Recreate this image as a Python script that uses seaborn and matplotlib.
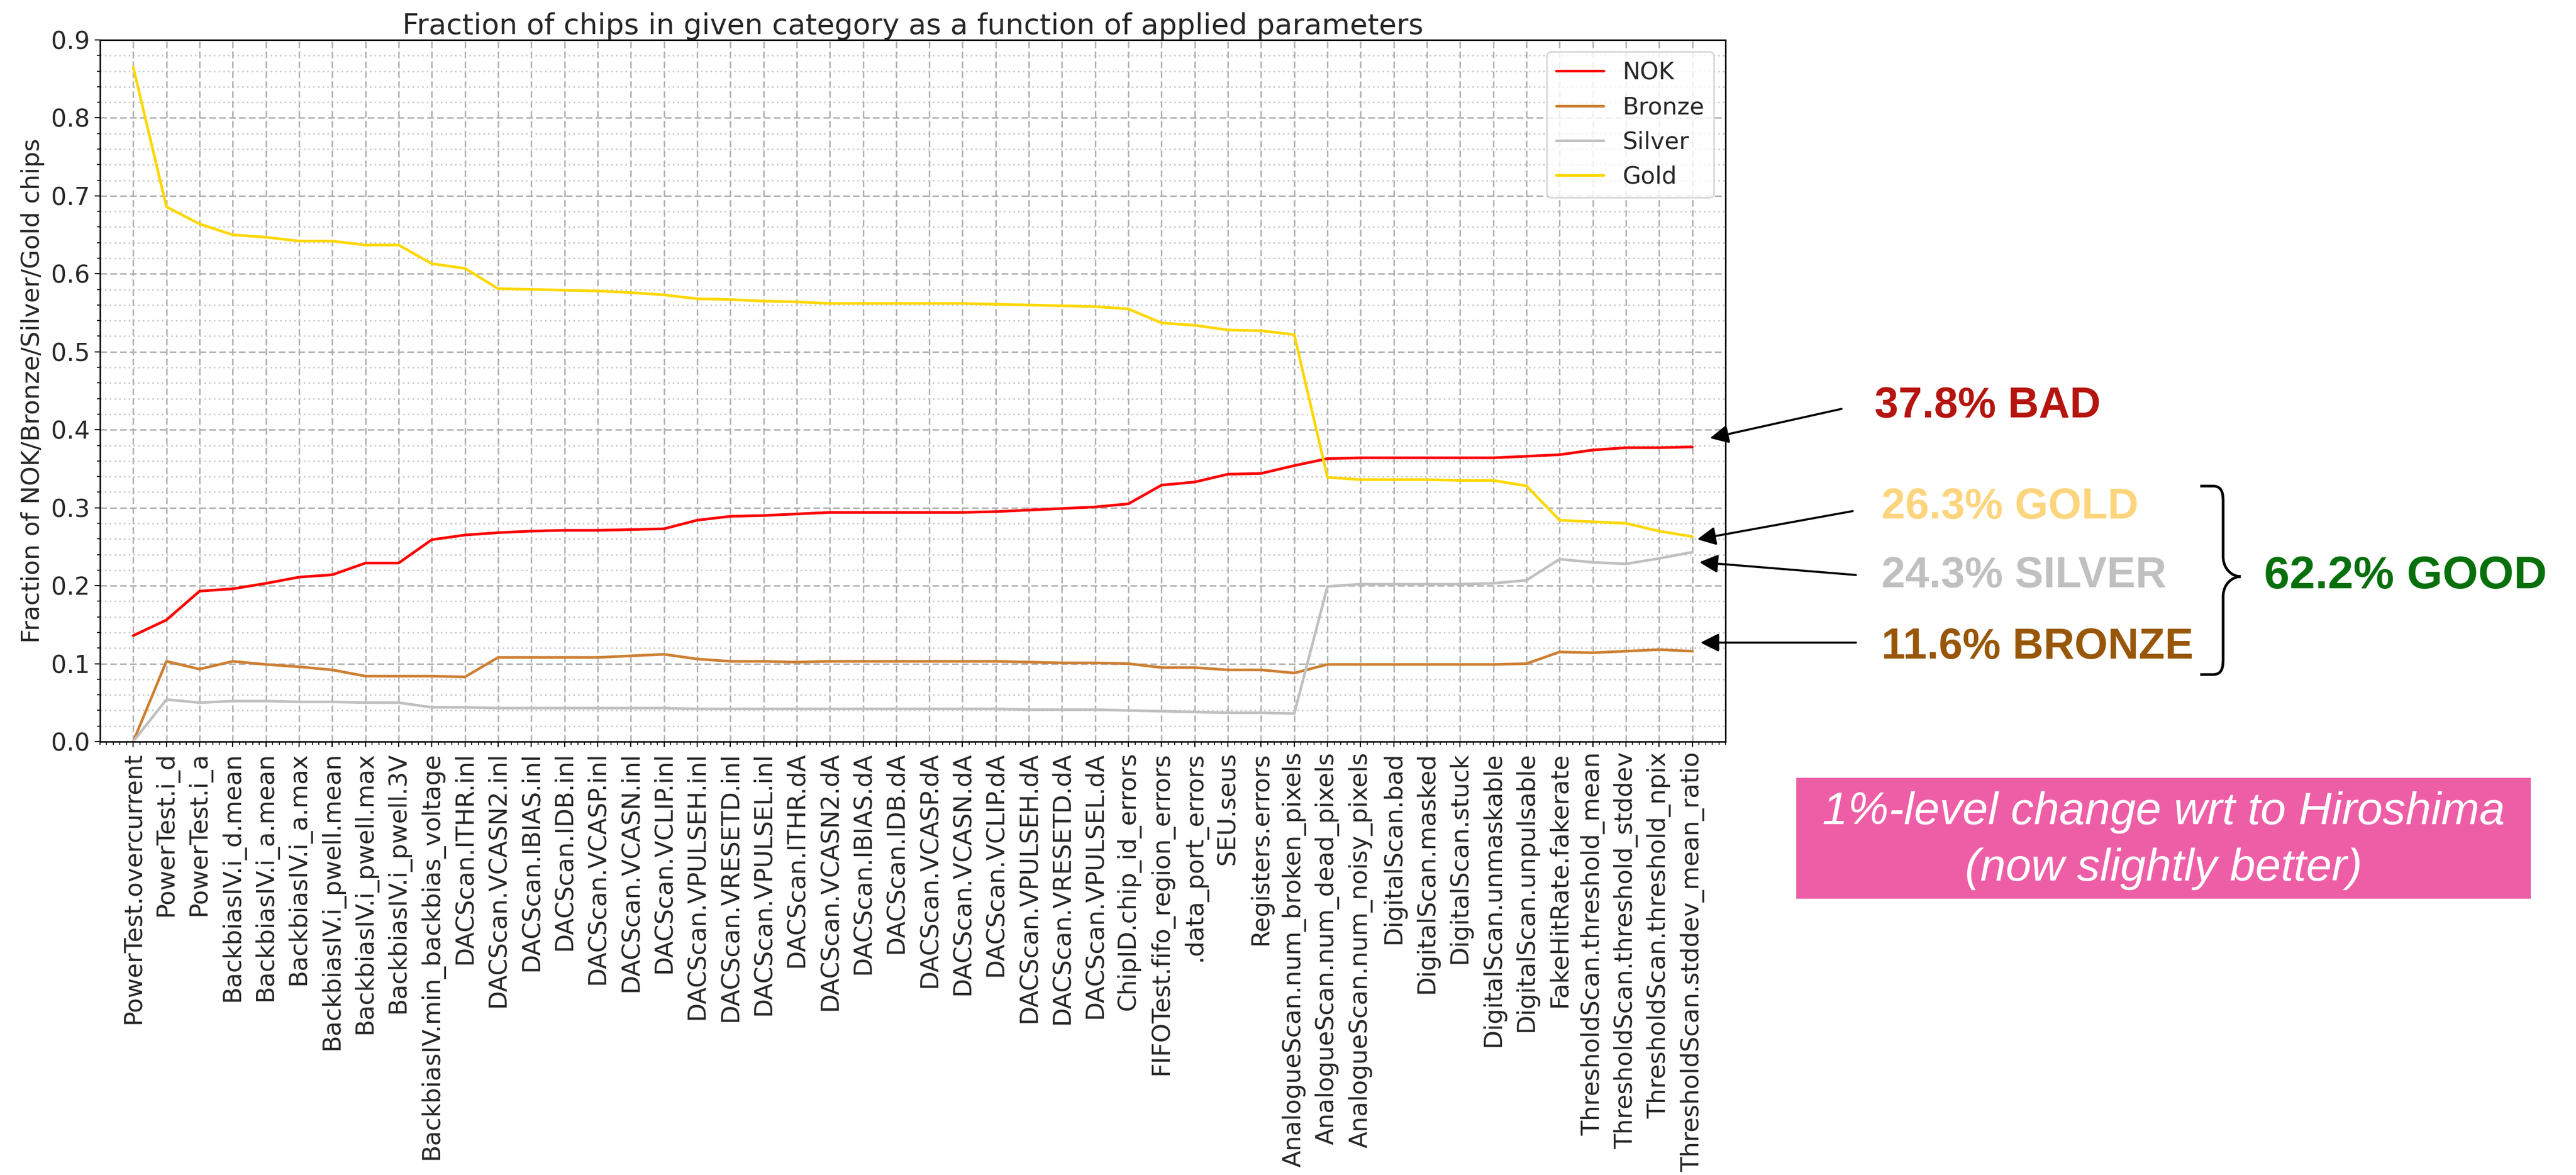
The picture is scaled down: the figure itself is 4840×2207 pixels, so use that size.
import numpy as np
import pandas as pd
import matplotlib
matplotlib.use("Agg")
import matplotlib.pyplot as plt
import seaborn as sns
from matplotlib import font_manager
from matplotlib.patches import FancyArrowPatch, Rectangle, PathPatch
from matplotlib.path import Path
from matplotlib.transforms import Affine2D
from matplotlib.ticker import MultipleLocator

# ---- data -------------------------------------------------------------
parameters = [
    "PowerTest.overcurrent", "PowerTest.i_d", "PowerTest.i_a",
    "BackbiasIV.i_d.mean", "BackbiasIV.i_a.mean", "BackbiasIV.i_a.max",
    "BackbiasIV.i_pwell.mean", "BackbiasIV.i_pwell.max", "BackbiasIV.i_pwell.3V",
    "BackbiasIV.min_backbias_voltage",
    "DACScan.ITHR.inl", "DACScan.VCASN2.inl", "DACScan.IBIAS.inl", "DACScan.IDB.inl",
    "DACScan.VCASP.inl", "DACScan.VCASN.inl", "DACScan.VCLIP.inl", "DACScan.VPULSEH.inl",
    "DACScan.VRESETD.inl", "DACScan.VPULSEL.inl",
    "DACScan.ITHR.dA", "DACScan.VCASN2.dA", "DACScan.IBIAS.dA", "DACScan.IDB.dA",
    "DACScan.VCASP.dA", "DACScan.VCASN.dA", "DACScan.VCLIP.dA", "DACScan.VPULSEH.dA",
    "DACScan.VRESETD.dA", "DACScan.VPULSEL.dA",
    "ChipID.chip_id_errors", "FIFOTest.fifo_region_errors", ".data_port_errors",
    "SEU.seus", "Registers.errors",
    "AnalogueScan.num_broken_pixels", "AnalogueScan.num_dead_pixels",
    "AnalogueScan.num_noisy_pixels",
    "DigitalScan.bad", "DigitalScan.masked", "DigitalScan.stuck",
    "DigitalScan.unmaskable", "DigitalScan.unpulsable",
    "FakeHitRate.fakerate", "ThresholdScan.threshold_mean",
    "ThresholdScan.threshold_stddev", "ThresholdScan.threshold_npix",
    "ThresholdScan.stddev_mean_ratio",
]

nok = [0.136, 0.156, 0.193, 0.196, 0.203, 0.211, 0.214, 0.229, 0.229, 0.259,
       0.265, 0.268, 0.270, 0.271, 0.271, 0.272, 0.273, 0.284, 0.289, 0.290,
       0.292, 0.294, 0.294, 0.294, 0.294, 0.294, 0.295, 0.297, 0.299, 0.301,
       0.305, 0.329, 0.333, 0.343, 0.344, 0.354, 0.363, 0.364, 0.364, 0.364,
       0.364, 0.364, 0.366, 0.368, 0.374, 0.377, 0.377, 0.378]

bronze = [0.000, 0.103, 0.093, 0.103, 0.099, 0.096, 0.092, 0.084, 0.084, 0.084,
          0.083, 0.108, 0.108, 0.108, 0.108, 0.110, 0.112, 0.106, 0.103, 0.103,
          0.102, 0.103, 0.103, 0.103, 0.103, 0.103, 0.103, 0.102, 0.101, 0.101,
          0.100, 0.095, 0.095, 0.092, 0.092, 0.088, 0.099, 0.099, 0.099, 0.099,
          0.099, 0.099, 0.100, 0.115, 0.114, 0.116, 0.118, 0.116]

silver = [0.000, 0.054, 0.050, 0.052, 0.052, 0.051, 0.051, 0.050, 0.050, 0.044,
          0.044, 0.043, 0.043, 0.043, 0.043, 0.043, 0.043, 0.042, 0.042, 0.042,
          0.042, 0.042, 0.042, 0.042, 0.042, 0.042, 0.042, 0.041, 0.041, 0.041,
          0.040, 0.039, 0.038, 0.037, 0.037, 0.036, 0.199, 0.202, 0.202, 0.202,
          0.202, 0.203, 0.207, 0.234, 0.230, 0.228, 0.235, 0.243]

gold = [0.865, 0.686, 0.664, 0.650, 0.647, 0.642, 0.642, 0.637, 0.637, 0.613,
        0.607, 0.581, 0.580, 0.579, 0.578, 0.576, 0.573, 0.568, 0.567, 0.565,
        0.564, 0.562, 0.562, 0.562, 0.562, 0.562, 0.561, 0.560, 0.559, 0.558,
        0.555, 0.537, 0.534, 0.528, 0.527, 0.522, 0.339, 0.336, 0.336, 0.336,
        0.335, 0.335, 0.328, 0.284, 0.282, 0.280, 0.270, 0.263]

categories = ["NOK", "Bronze", "Silver", "Gold"]
line_colors = ["#ff0000", "#cd7f32", "#c0c0c0", "#ffd700"]

summary_texts = ["37.8% BAD", "26.3% GOLD", "24.3% SILVER", "11.6% BRONZE"]
summary_colors = ["#b5140f", "#fdd57e", "#c0c0c0", "#985708"]
good_text = "62.2% GOOD"
good_color = "#07700c"
note_lines = ["1%-level change wrt to Hiroshima", "(now slightly better)"]
note_color = "#ee5ea6"

title = "Fraction of chips in given category as a function of applied parameters"
ylabel = "Fraction of NOK/Bronze/Silver/Gold chips"

# ---- long-form table --------------------------------------------------
series = dict(zip(categories, [nok, bronze, silver, gold]))
pos = np.arange(len(parameters))
df = pd.concat(
    [pd.DataFrame({"pos": pos, "fraction": vals, "category": name})
     for name, vals in series.items()],
    ignore_index=True,
)

# ---- figure -----------------------------------------------------------
sns.set_style("ticks")
plt.rcParams["font.family"] = ["DejaVu Sans"]
plt.rcParams["font.size"] = 16

W, H, DPI = 4840, 2207, 200
fig = plt.figure(figsize=(W / DPI, H / DPI), dpi=DPI)
fig.patch.set_facecolor("white")
ax = fig.add_axes([188 / W, 1 - 1393 / H, (3242 - 188) / W, (1393 - 75) / H])

sns.lineplot(data=df, x="pos", y="fraction", hue="category",
             hue_order=categories, palette=line_colors, linewidth=1.8,
             ax=ax, legend=True)

ax.set_xlim(-1, len(parameters))
ax.set_ylim(0, 0.9)
ax.set_xticks(pos)
ax.set_xticklabels(parameters, rotation=90, fontsize=16.5)
ax.set_yticks(np.round(np.arange(0, 0.91, 0.1), 1))
ax.tick_params(axis="y", labelsize=16.5)
ax.xaxis.set_minor_locator(MultipleLocator(0.2))
ax.yaxis.set_minor_locator(MultipleLocator(0.02))
ax.tick_params(which="both", direction="out", color="black")

ax.grid(which="major", axis="both", linestyle=(0, (4.5, 2.2)),
        color="#b0b0b0", linewidth=1.0)
ax.yaxis.grid(which="minor", linestyle=(0, (1, 2.2)), color="#c4c4c4",
              linewidth=1.0)
ax.set_axisbelow(True)
for sp in ax.spines.values():
    sp.set_color("black")
    sp.set_linewidth(1.0)

ax.set_title(title, fontsize=19.5, pad=3)
ax.set_xlabel("")
ax.set_ylabel(ylabel, fontsize=16.8)

sns.move_legend(ax, "upper right", title=None, frameon=True, fontsize=16)

# ---- annotations in pixel coordinates ---------------------------------
px = Affine2D().scale(1 / W, -1 / H).translate(0, 1) + fig.transFigure

label_pos = [(3522, 763), (3535, 953), (3535, 1082), (3535, 1216)]
for (x, y), s, c in zip(label_pos, summary_texts, summary_colors):
    fig.text(x, y, s, transform=px, color=c, fontsize=29, fontweight="bold",
             family="Liberation Sans", ha="left", va="center")

installed = {f.name for f in font_manager.fontManager.ttflist}
if "Liberation Sans Narrow" in installed:
    good_family, good_size = "Liberation Sans Narrow", 37
else:
    good_family, good_size = "Liberation Sans", 31
fig.text(4254, 1083, good_text, transform=px, color=good_color,
         fontsize=good_size, fontweight="bold", family=good_family,
         ha="left", va="center")

arrows = [((3460, 768), (3213, 823)),
          ((3481, 960), (3189, 1013)),
          ((3487, 1080), (3193, 1056)),
          ((3487, 1207), (3195, 1207))]
for a, b in arrows:
    fig.add_artist(FancyArrowPatch(a, b, transform=px, arrowstyle="-|>",
                                   mutation_scale=26, linewidth=1.4,
                                   color="black", shrinkA=0, shrinkB=0))

# curly brace grouping the good categories
verts = [(4134, 913), (4158, 913),
         (4177, 913), (4177, 930), (4177, 945),
         (4177, 1045),
         (4177, 1070), (4195, 1083), (4210, 1083),
         (4195, 1083), (4177, 1096), (4177, 1121),
         (4177, 1235),
         (4177, 1250), (4177, 1267), (4158, 1267),
         (4134, 1267)]
codes = [Path.MOVETO, Path.LINETO,
         Path.CURVE4, Path.CURVE4, Path.CURVE4,
         Path.LINETO,
         Path.CURVE4, Path.CURVE4, Path.CURVE4,
         Path.CURVE4, Path.CURVE4, Path.CURVE4,
         Path.LINETO,
         Path.CURVE4, Path.CURVE4, Path.CURVE4,
         Path.LINETO]
fig.add_artist(PathPatch(Path(verts, codes), transform=px, fill=False,
                         edgecolor="black", linewidth=1.8))

# pink note box
fig.add_artist(Rectangle((3375, 1461), 1380, 227, transform=px,
                         facecolor=note_color, edgecolor="none"))
for y, s in zip([1526, 1632], note_lines):
    fig.text(4065, y, s, transform=px, color="white", fontsize=31,
             fontstyle="italic", family="Liberation Sans",
             ha="center", va="center")

fig.savefig("out.png", dpi=DPI, facecolor="white")
